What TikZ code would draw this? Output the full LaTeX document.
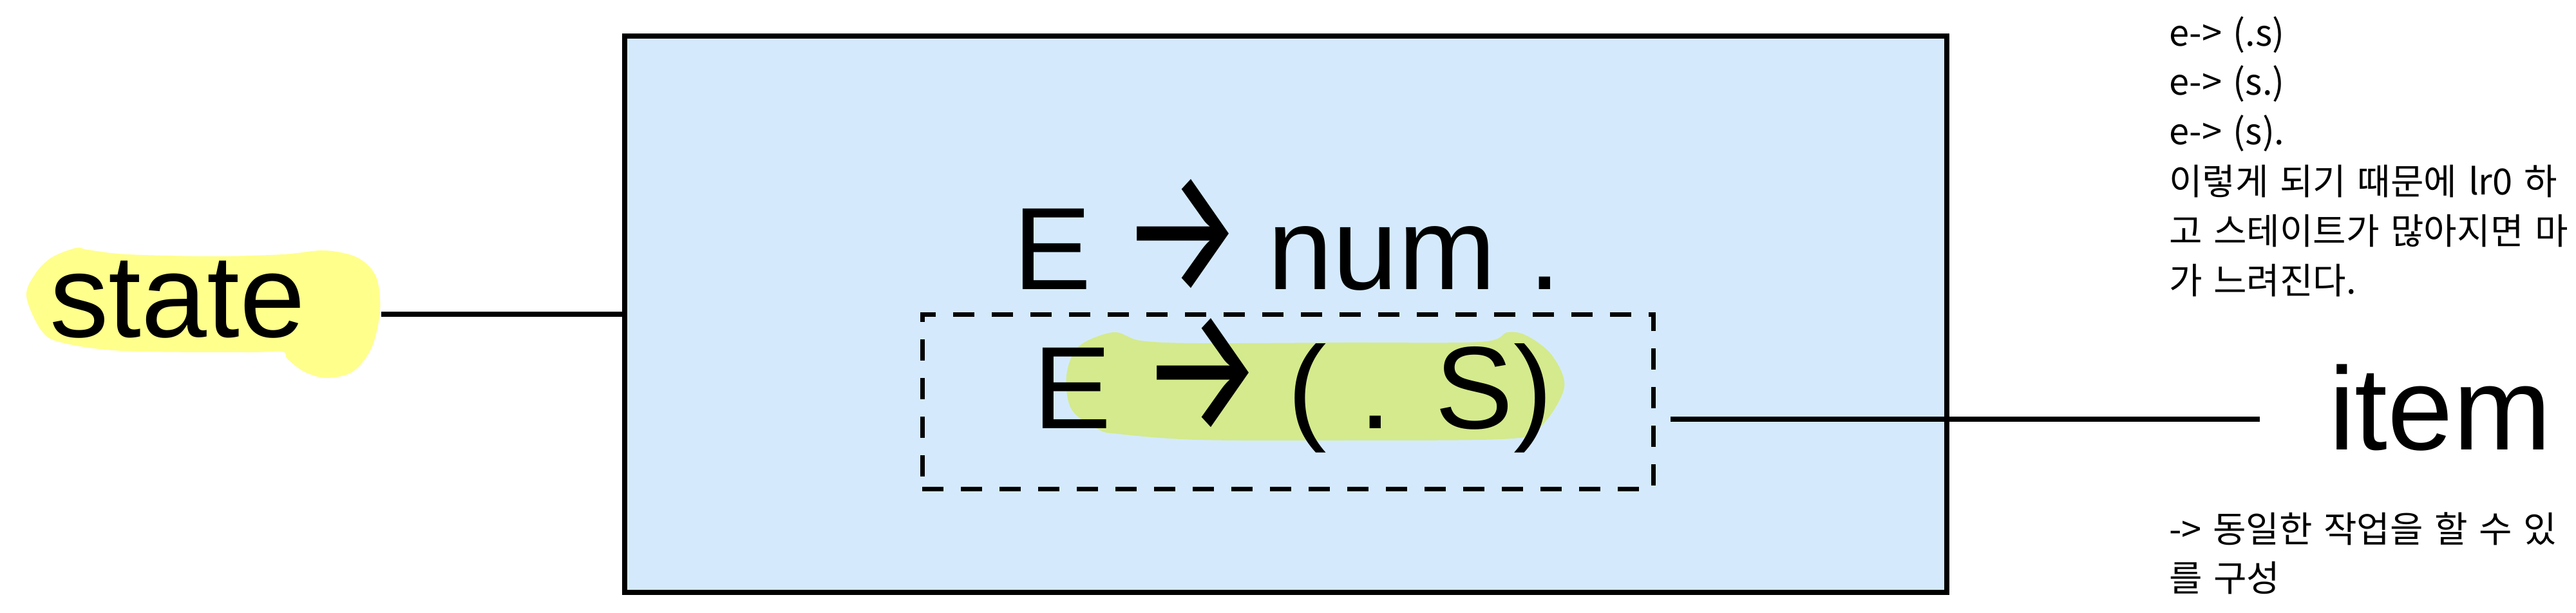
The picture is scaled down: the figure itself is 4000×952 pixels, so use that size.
\documentclass[tikz,border=0pt]{standalone}
\usepackage{fontspec}
\setmainfont{Liberation Sans}
\newfontfamily\krfont{Noto Sans CJK KR}[WordSpace=1.4]
\newfontfamily\arrfont{Fira Sans}
\usetikzlibrary{calc}
\definecolor{boxblue}{RGB}{212,234,252}
\definecolor{hlyellow}{RGB}{255,255,140}
\definecolor{hlgreen}{RGB}{212,234,140}
\newcommand\ArrGlyph{\makebox[173pt][l]{\hspace{-6pt}\raisebox{-4pt}{\resizebox{193pt}{175pt}{\arrfont →}}}}
\tikzset{
  bigtext/.style={font=\fontsize{182}{200}\selectfont, inner sep=0pt, anchor=base west},
  labeltext/.style={font=\fontsize{183}{200}\selectfont, inner sep=0pt, anchor=base west},
  notetext/.style={font=\krfont\fontsize{56}{77}\selectfont, inner sep=0pt, anchor=base west},
  conn/.style={line width=8pt, draw=black},
  mainbox/.style={draw=black, line width=8.5pt, fill=boxblue, inner sep=0pt, outer sep=0pt},
  selbox/.style={draw=black, line width=7pt, dash pattern=on 33pt off 27pt, inner sep=0pt, outer sep=0pt},
}
\begin{document}
\begin{tikzpicture}[x=1pt,y=-1pt]
\useasboundingbox (0,0) rectangle (4000,952);
\clip (0,0) rectangle (4000,952);

% state highlight
\fill[hlyellow] plot[smooth cycle, tension=0.55] coordinates {
  (41,460) (64,513) (96,532) (191,545) (383,547) (438,546)
  (446,557) (472,577) (507,587) (548,577) (577,540) (590,483)
  (584,430) (555,400) (504,389) (440,395) (332,398) (198,395)
  (137,388) (118,385) (80,400) (55,425)};

% main state box
\node[mainbox, minimum width=2053pt, minimum height=864pt] (main) at (1996.5,488) {};

% item highlight
\fill[hlgreen] plot[smooth cycle, tension=0.55] coordinates {
  (1729,516) (1675,538) (1656,583) (1664,636) (1706,667) (1737,674)
  (1859,683) (2089,684) (2349,681) (2395,660) (2429,601) (2410,552)
  (2372,522) (2341,516) (2299,531) (2089,532) (1859,533) (1771,529)};

% selected item box
\node[selbox, minimum width=1135pt, minimum height=271pt] (sel) at (1999.5,623.5) {};

% texts
\node[labeltext] (state) at (77,523) {state};
\node[bigtext] (rule1) at (1573,449) {E \ArrGlyph\ num .};
\node[bigtext] (rule2) at (1604,665) {E \ArrGlyph\ ( . S)};
\node[labeltext] (item) at (3616,698) {item};

% connectors
\coordinate (stateR) at (592,488);
\coordinate (itemL) at (3509,651);
\draw[conn] (stateR) -- (main.west);
\draw[conn] ([xshift=27pt]sel.east |- itemL) -- (itemL);

% notes
\node[notetext] (n1) at (3368,72) {e-> (.s)};
\node[notetext] (n2) at (3368,148) {e-> (s.)};
\node[notetext] (n3) at (3368,225) {e-> (s).};
\node[notetext] (n4) at (3368,302) {이렇게 되기 때문에 lr0 하};
\node[notetext] (n5) at (3368,379) {고 스테이트가 많아지면 마};
\node[notetext] (n6) at (3368,456) {가 느려진다.};
\node[notetext] (n7) at (3368,842) {-> 동일한 작업을 할 수 있};
\node[notetext] (n8) at (3368,918) {를 구성};
\end{tikzpicture}
\end{document}
